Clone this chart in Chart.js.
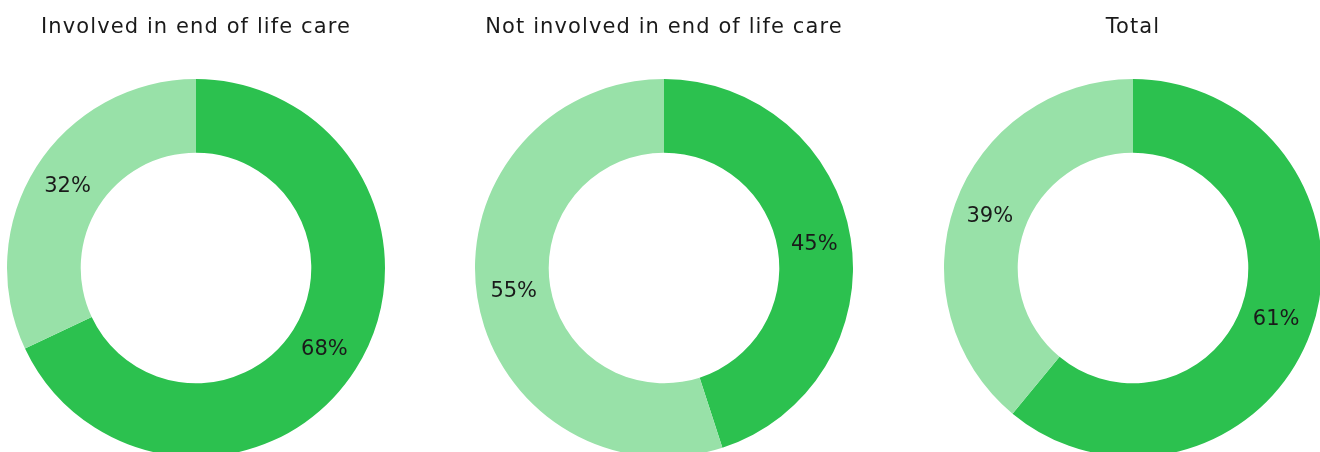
<!DOCTYPE html>
<html>
<head>
<meta charset="utf-8">
<script src="https://cdn.jsdelivr.net/npm/chart.js@4"></script>
<style>
  html, body { margin: 0; padding: 0; background: #fff; overflow: hidden; }
  body { width: 1320px; height: 452px; position: relative; }
  .pie { position: absolute; top: 0; width: 400px; height: 470px; }
</style>
</head>
<body>
<div class="pie" style="left:-4px"><canvas id="c0"></canvas></div>
<div class="pie" style="left:464px"><canvas id="c1"></canvas></div>
<div class="pie" style="left:933px"><canvas id="c2"></canvas></div>
<script>
const titles = ['Involved in end of life care', 'Not involved in end of life care', 'Total'];
const categories = ['Yes', 'No'];
const involved = [68, 32];
const notInvolved = [45, 55];
const total = [61, 39];
const sliceColors = ['#2cc14f', '#98e1a8'];

const FONT = "'DejaVu Sans', sans-serif";

// wider tracking for the title text
const titleSpacing = {
  id: 'titleSpacing',
  beforeDraw(chart) {
    chart.ctx.letterSpacing = '1.1px';
  }
};

// percentage text in the middle of each ring segment
const sliceLabels = {
  id: 'sliceLabels',
  afterDatasetsDraw(chart) {
    const ctx = chart.ctx;
    const meta = chart.getDatasetMeta(0);
    ctx.save();
    ctx.letterSpacing = '0px';
    ctx.font = '21px ' + FONT;
    ctx.fillStyle = '#1a1a1a';
    ctx.textAlign = 'center';
    ctx.textBaseline = 'middle';
    meta.data.forEach((arc, i) => {
      const p = arc.getCenterPoint();
      ctx.fillText(chart.data.datasets[0].data[i] + '%', p.x, p.y);
    });
    ctx.restore();
  }
};

function makeDonut(id, title, values) {
  return new Chart(document.getElementById(id), {
    type: 'doughnut',
    data: {
      labels: categories,
      datasets: [{
        data: values,
        backgroundColor: sliceColors,
        borderWidth: 0,
        hoverOffset: 0,
        offset: 0
      }]
    },
    options: {
      responsive: true,
      maintainAspectRatio: false,
      animation: false,
      cutout: '61%',
      layout: { padding: { bottom: 13 } },
      plugins: {
        legend: { display: false },
        tooltip: { enabled: false },
        title: {
          display: true,
          text: title,
          color: '#1a1a1a',
          font: { family: FONT, size: 21, weight: 'normal' },
          padding: { top: 15, bottom: 38.8 }
        }
      }
    },
    plugins: [titleSpacing, sliceLabels]
  });
}

makeDonut('c0', titles[0], involved);
makeDonut('c1', titles[1], notInvolved);
makeDonut('c2', titles[2], total);
</script>
</body>
</html>
